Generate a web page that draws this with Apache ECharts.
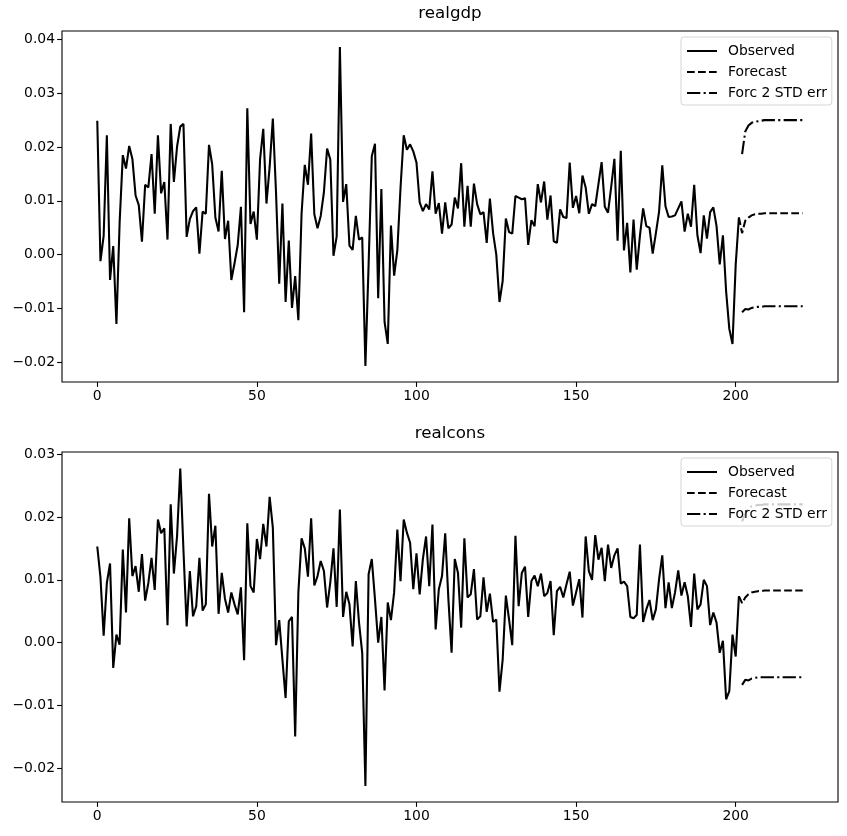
<!DOCTYPE html>
<html>
<head>
<meta charset="UTF-8">
<title>realgdp / realcons forecast</title>
<script src="https://cdn.jsdelivr.net/npm/echarts@6/dist/echarts.min.js"></script>
<style>
  body { margin: 0; background: #fff; }
  #chart { width: 847px; height: 836px; }
</style>
</head>
<body>
<div id="chart"></div>
<script>
// observed growth rates, index 0..201
var realgdpObs = [
  0.0249, -0.0012, 0.0035, 0.0222, -0.0047, 0.0016, -0.0129, 0.0059, 0.0185, 0.0160,
  0.0202, 0.0178, 0.0110, 0.0092, 0.0024, 0.0130, 0.0125, 0.0187, 0.0076, 0.0222,
  0.0114, 0.0135, 0.0028, 0.0243, 0.0135, 0.0201, 0.0238, 0.0243, 0.0033, 0.0066,
  0.0081, 0.0088, 0.0002, 0.0080, 0.0076, 0.0204, 0.0168, 0.0069, 0.0043, 0.0156,
  0.0029, 0.0063, -0.0047, -0.0016, 0.0018, 0.0089, -0.0107, 0.0272, 0.0057, 0.0080,
  0.0028, 0.0177, 0.0234, 0.0095, 0.0163, 0.0253, 0.0115, -0.0054, 0.0095, -0.0088,
  0.0026, -0.0099, -0.0040, -0.0122, 0.0076, 0.0167, 0.0130, 0.0225, 0.0075, 0.0049,
  0.0072, 0.0116, 0.0197, 0.0177, -0.0002, 0.0034, 0.0386, 0.0098, 0.0131, 0.0017,
  0.0009, 0.0072, 0.0028, 0.0032, -0.0207, -0.0019, 0.0183, 0.0206, -0.0081, 0.0122,
  -0.0125, -0.0166, 0.0054, -0.0039, 0.0008, 0.0124, 0.0222, 0.0195, 0.0205, 0.0192,
  0.0171, 0.0097, 0.0081, 0.0094, 0.0084, 0.0155, 0.0076, 0.0096, 0.0039, 0.0097,
  0.0049, 0.0056, 0.0106, 0.0086, 0.0170, 0.0052, 0.0128, 0.0052, 0.0132, 0.0094,
  0.0075, 0.0079, 0.0022, 0.0104, 0.0040, 0.0000, -0.0088, -0.0049, 0.0067, 0.0042,
  0.0039, 0.0109, 0.0106, 0.0103, 0.0105, 0.0018, 0.0064, 0.0053, 0.0131, 0.0097,
  0.0136, 0.0065, 0.0110, 0.0025, 0.0022, 0.0084, 0.0070, 0.0068, 0.0171, 0.0087,
  0.0109, 0.0077, 0.0147, 0.0125, 0.0076, 0.0094, 0.0090, 0.0131, 0.0172, 0.0089,
  0.0078, 0.0126, 0.0178, 0.0026, 0.0193, 0.0008, 0.0059, -0.0033, 0.0065, -0.0028,
  0.0035, 0.0086, 0.0053, 0.0050, 0.0002, 0.0040, 0.0080, 0.0166, 0.0090, 0.0070,
  0.0071, 0.0073, 0.0086, 0.0099, 0.0043, 0.0076, 0.0052, 0.0130, 0.0036, 0.0003,
  0.0073, 0.0030, 0.0079, 0.0088, 0.0053, -0.0018, 0.0036, -0.0068, -0.0138, -0.0166,
  -0.0019, 0.0069
];

var realconsObs = [
  0.0153, 0.0104, 0.0011, 0.0095, 0.0126, -0.0040, 0.0013, -0.0003, 0.0148, 0.0048,
  0.0198, 0.0106, 0.0122, 0.0081, 0.0141, 0.0067, 0.0095, 0.0135, 0.0084, 0.0196,
  0.0174, 0.0182, 0.0028, 0.0220, 0.0110, 0.0170, 0.0277, 0.0147, 0.0026, 0.0114,
  0.0042, 0.0058, 0.0135, 0.0051, 0.0061, 0.0237, 0.0153, 0.0186, 0.0046, 0.0111,
  0.0070, 0.0048, 0.0080, 0.0061, 0.0045, 0.0088, -0.0028, 0.0190, 0.0090, 0.0080,
  0.0165, 0.0133, 0.0189, 0.0153, 0.0232, 0.0183, -0.0004, 0.0036, -0.0027, -0.0088,
  0.0034, 0.0041, -0.0149, 0.0080, 0.0166, 0.0150, 0.0105, 0.0198, 0.0091, 0.0106,
  0.0130, 0.0114, 0.0056, 0.0096, 0.0150, 0.0057, 0.0212, 0.0041, 0.0081, 0.0061,
  -0.0006, 0.0098, 0.0032, -0.0016, -0.0228, 0.0109, 0.0133, 0.0069, 0.0000, 0.0041,
  -0.0076, 0.0064, 0.0036, 0.0080, 0.0180, 0.0098, 0.0196, 0.0175, 0.0159, 0.0085,
  0.0142, 0.0077, 0.0133, 0.0169, 0.0090, 0.0188, 0.0021, 0.0085, 0.0106, 0.0174,
  0.0069, -0.0016, 0.0133, 0.0111, 0.0024, 0.0166, 0.0072, 0.0077, 0.0117, 0.0037,
  0.0042, 0.0104, 0.0049, 0.0078, 0.0033, 0.0037, -0.0078, -0.0027, 0.0075, 0.0037,
  -0.0004, 0.0170, 0.0058, 0.0111, 0.0121, 0.0041, 0.0098, 0.0107, 0.0090, 0.0110,
  0.0074, 0.0079, 0.0098, 0.0012, 0.0082, 0.0089, 0.0072, 0.0093, 0.0113, 0.0059,
  0.0080, 0.0101, 0.0040, 0.0169, 0.0114, 0.0100, 0.0171, 0.0132, 0.0151, 0.0098,
  0.0156, 0.0119, 0.0139, 0.0150, 0.0094, 0.0097, 0.0090, 0.0041, 0.0039, 0.0044,
  0.0156, 0.0033, 0.0053, 0.0068, 0.0036, 0.0053, 0.0101, 0.0139, 0.0055, 0.0096,
  0.0055, 0.0080, 0.0115, 0.0075, 0.0096, 0.0074, 0.0025, 0.0110, 0.0053, 0.0061,
  0.0100, 0.0090, 0.0028, 0.0048, 0.0032, -0.0016, 0.0003, -0.0090, -0.0077, 0.0013,
  -0.0022, 0.0074
];

// 20-step forecast, x = 202..221
var gdpFc    = [0.0040, 0.0063, 0.0069, 0.0073, 0.0075, 0.0076, 0.0076, 0.0077, 0.0077, 0.0077,
                0.0077, 0.0077, 0.0077, 0.0077, 0.0077, 0.0077, 0.0077, 0.0077, 0.0077, 0.0077];
var gdpUpper = [0.0187, 0.0229, 0.0240, 0.0245, 0.0247, 0.0248, 0.0249, 0.0250, 0.0250, 0.0250,
                0.0250, 0.0250, 0.0250, 0.0250, 0.0250, 0.0250, 0.0250, 0.0250, 0.0250, 0.0250];
var gdpLower = [-0.0107, -0.0101, -0.0102, -0.0099, -0.0098, -0.0097, -0.0097, -0.0096, -0.0096, -0.0096,
                -0.0096, -0.0096, -0.0096, -0.0096, -0.0096, -0.0096, -0.0096, -0.0096, -0.0096, -0.0096];

var consFc    = [0.0063, 0.0072, 0.0077, 0.0080, 0.0081, 0.0082, 0.0082, 0.0083, 0.0083, 0.0083,
                 0.0083, 0.0083, 0.0083, 0.0083, 0.0083, 0.0083, 0.0083, 0.0083, 0.0083, 0.0083];
var consUpper = [0.0193, 0.0205, 0.0213, 0.0217, 0.0218, 0.0219, 0.0219, 0.0220, 0.0220, 0.0220,
                 0.0220, 0.0220, 0.0220, 0.0220, 0.0220, 0.0220, 0.0220, 0.0220, 0.0220, 0.0220];
var consLower = [-0.0067, -0.0059, -0.0060, -0.0057, -0.0056, -0.0055, -0.0055, -0.0055, -0.0055, -0.0055,
                 -0.0055, -0.0055, -0.0055, -0.0055, -0.0055, -0.0055, -0.0055, -0.0055, -0.0055, -0.0055];

var xTicks = [0, 50, 100, 150, 200];
var gdpTicks = [-0.02, -0.01, 0.00, 0.01, 0.02, 0.03, 0.04];
var consTicks = [-0.02, -0.01, 0.00, 0.01, 0.02, 0.03];
var names = ['realgdp', 'realcons'];

var FONT = 'DejaVu Sans';
var LW = 2.08;
var DASH = [7.7, 3.3];
var DASHDOT = [13.3, 3.3, 2.1, 3.3];

function obsPairs(arr) {
    return arr.map(function (v, i) { return [i, v]; });
}
function fcPairs(obs, fc) {
    var n = obs.length;
    var out = [[n - 1, obs[n - 1]]];
    for (var i = 0; i < fc.length; i++) out.push([n + i, fc[i]]);
    return out;
}
function errPairs(n, arr) {
    return arr.map(function (v, i) { return [n + i, v]; });
}
function fmtY(v) {
    var s = Math.abs(v).toFixed(2);
    return v < -1e-9 ? '\u2212' + s : s;
}

function makeX(idx) {
    return {
        type: 'value', gridIndex: idx, min: -11.05, max: 232.05,
        splitLine: { show: false },
        axisLine: { show: false, onZero: false },
        axisTick: { show: true, length: 4.9, lineStyle: { color: '#000', width: 1.1 }, customValues: xTicks },
        axisLabel: { color: '#000', fontFamily: FONT, fontSize: 13.9, margin: 7, customValues: xTicks }
    };
}
function makeY(idx, min, max, ticks) {
    return {
        type: 'value', gridIndex: idx, min: min, max: max,
        splitLine: { show: false },
        axisLine: { show: false, onZero: false },
        axisTick: { show: true, length: 4.9, lineStyle: { color: '#000', width: 1.1 }, customValues: ticks },
        axisLabel: { color: '#000', fontFamily: FONT, fontSize: 13.9, margin: 7, customValues: ticks, formatter: fmtY }
    };
}
function makeSeries(idx, obs, fc, up, lo) {
    var n = obs.length;
    var base = { type: 'line', xAxisIndex: idx, yAxisIndex: idx, symbol: 'none', showSymbol: false, animation: false, silent: true };
    return [
        Object.assign({}, base, { name: 'Observed', data: obsPairs(obs), lineStyle: { color: '#000', width: LW, type: 'solid' }, itemStyle: { color: '#000' } }),
        Object.assign({}, base, { name: 'Forecast', data: fcPairs(obs, fc), lineStyle: { color: '#000', width: LW, type: DASH }, itemStyle: { color: '#000' } }),
        Object.assign({}, base, { name: 'Forc 2 STD err', data: errPairs(n, up), lineStyle: { color: '#000', width: LW, type: DASHDOT }, itemStyle: { color: '#000' } }),
        Object.assign({}, base, { name: 'lower' + idx, data: errPairs(n, lo), lineStyle: { color: '#000', width: LW, type: DASHDOT }, itemStyle: { color: '#000' } })
    ];
}
function makeLegend(top) {
    return {
        orient: 'vertical', left: 681, top: top,
        data: ['Observed', 'Forecast', 'Forc 2 STD err'],
        itemWidth: 30, itemHeight: 14, itemGap: 7,
        padding: [7, 5, 5, 5],
        backgroundColor: 'rgba(255,255,255,0.8)',
        borderColor: 'rgba(204,204,204,0.8)', borderWidth: 1, borderRadius: 3,
        selectedMode: false,
        itemStyle: { color: 'rgba(0,0,0,0)', borderWidth: 0, opacity: 0 },
        textStyle: { color: '#000', fontFamily: FONT, fontSize: 13.9, padding: [0, 0, 0, 6] }
    };
}

var chart = echarts.init(document.getElementById('chart'), null, { renderer: 'canvas' });
var option = {
    backgroundColor: '#fff',
    animation: false,
    title: [
        { text: names[0], left: 450, top: 5, textAlign: 'center', padding: 0,
          textStyle: { fontFamily: FONT, fontSize: 16.7, fontWeight: 'normal', color: '#000' } },
        { text: names[1], left: 450, top: 425, textAlign: 'center', padding: 0,
          textStyle: { fontFamily: FONT, fontSize: 16.7, fontWeight: 'normal', color: '#000' } }
    ],
    grid: [
        { left: 62, top: 31, width: 776, height: 351, show: true, borderColor: '#000', borderWidth: 1.1, backgroundColor: 'transparent' },
        { left: 62, top: 452, width: 776, height: 350, show: true, borderColor: '#000', borderWidth: 1.1, backgroundColor: 'transparent' }
    ],
    xAxis: [makeX(0), makeX(1)],
    yAxis: [makeY(0, -0.02367, 0.04157, gdpTicks), makeY(1, -0.02533, 0.03033, consTicks)],
    legend: [makeLegend(37), makeLegend(458)],
    series: makeSeries(0, realgdpObs, gdpFc, gdpUpper, gdpLower)
        .concat(makeSeries(1, realconsObs, consFc, consUpper, consLower))
};
chart.setOption(option);
</script>
</body>
</html>
